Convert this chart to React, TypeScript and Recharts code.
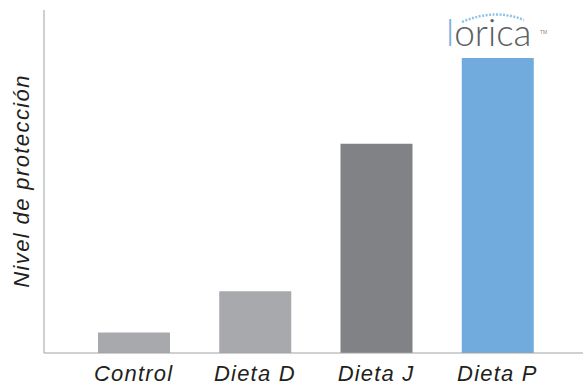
import * as React from "react";
import { Bar, BarChart, Cell, XAxis, YAxis } from "recharts";

const categories = ["Control", "Dieta D", "Dieta J", "Dieta P"];
const protectionLevel = [6, 18, 61, 86];
const barColors = ["#a7a9ac", "#a7a9ac", "#808285", "#71abdd"];

const data = categories.map((name, i) => ({ name, value: protectionLevel[i] }));

const FONT = "'Liberation Sans', Arial, sans-serif";

function Tick(props: any) {
  const { x, y, payload } = props;
  return (
    <text
      x={x}
      y={y}
      dy={20}
      textAnchor="middle"
      fontFamily={FONT}
      fontStyle="italic"
      fontSize={22}
      letterSpacing={1.2}
      fill="#231f20"
    >
      {payload.value}
    </text>
  );
}

// logo + y title drawn over the chart
function Overlay() {
  return (
    <svg
      width={583}
      height={386}
      style={{ position: "absolute", left: 0, top: 0, pointerEvents: "none" }}
    >
      <text
        transform="translate(29,181) rotate(-90)"
        textAnchor="middle"
        fontFamily={FONT}
        fontStyle="italic"
        fontSize={22}
        letterSpacing={1.4}
        fill="#231f20"
      >
        Nivel de protección
      </text>
      <path d="M462 22 Q495 8 524 20" stroke="#8fc3e6" strokeWidth={2.5} fill="none" strokeDasharray="2 1.5" />
      <text x={446} y={46} fontFamily="Lato, 'Open Sans', sans-serif" fontWeight={300} fontSize={37}>
        <tspan fill="#7ab3dc">l</tspan>
        <tspan fill="#5b5e62">orica</tspan>
      </text>
      <text x={540} y={34} fontFamily={FONT} fontSize={5} fill="#888">TM</text>
    </svg>
  );
}

export default function App() {
  return (
    <div style={{ position: "absolute", left: 0, top: 0, width: 583, height: 386, background: "#fff" }}>
      <BarChart
        width={583}
        height={386}
        data={data}
        margin={{ top: 10, right: 0, left: 43, bottom: 0 }}
        barSize={72}
      >
        <XAxis
          dataKey="name"
          height={33}
          stroke="#a0a1a3"
          tickLine={false}
          tick={<Tick />}
          padding={{ left: 29, right: 25 }}
          interval={0}
        />
        <YAxis
          width={1}
          domain={[0, 100]}
          stroke="#a0a1a3"
          tick={false}
          tickLine={false}
        />
        <Bar dataKey="value" isAnimationActive={false}>
          {data.map((d, i) => (
            <Cell key={d.name} fill={barColors[i]} />
          ))}
        </Bar>
      </BarChart>
      <Overlay />
    </div>
  );
}
